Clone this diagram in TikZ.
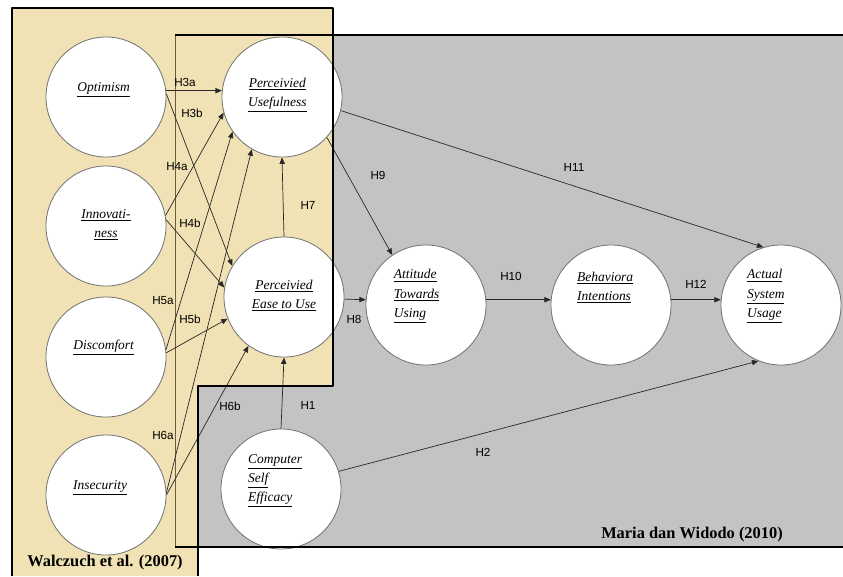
\documentclass[tikz,border=0pt]{standalone}
\usepackage{fontspec}
\setmainfont{Liberation Serif}
\setsansfont{Liberation Sans}
\usetikzlibrary{arrows.meta}

\definecolor{tanbg}{RGB}{240,226,180}
\definecolor{greybg}{RGB}{195,195,195}
\definecolor{rimgrey}{RGB}{115,115,115}
\definecolor{arrowgrey}{RGB}{40,40,40}
\definecolor{oliveline}{RGB}{105,95,55}

\tikzset{
  construct/.style={circle,draw=rimgrey,line width=0.7pt,fill=white,
    minimum size=3.6cm,inner sep=0pt},
  cname/.style={font=\fontsize{11.5}{16.5}\selectfont\itshape,align=left,inner sep=0pt},
  hyp/.style={draw=arrowgrey,line width=0.6pt,-{Triangle[length=5.5pt,width=4.5pt]}},
  hlab/.style={font=\sffamily\fontsize{10}{12}\selectfont,inner sep=0pt},
  boxline/.style={line width=2.4pt,black},
  study/.style={font=\bfseries\fontsize{14}{16}\selectfont,inner sep=0pt}
}

\begin{document}
\begin{tikzpicture}[x=0.03cm,y=-0.03cm,line join=round]
  \useasboundingbox (0,0) rectangle (843,576);

  % ---------- the two study areas ----------
  \fill[greybg] (175,35) rectangle (843,547);
  \fill[tanbg] (12,8) -- (333,8) -- (333,386) -- (198,386) -- (198,576) -- (12,576) -- cycle;
  \draw[oliveline,line width=0.8pt] (175,35) -- (175,547);

  % ---------- constructs ----------
  \node[construct,label={[cname,xshift=-2pt,yshift=6pt]center:\underline{Optimism}}]
    (opt) at (106,97) {};
  \node[construct,label={[cname,align=center,yshift=1pt]center:{\underline{Innovati-}\\\underline{ness}}}]
    (inn) at (106,226) {};
  \node[construct,label={[cname,xshift=-2pt,yshift=8pt]center:\underline{Discomfort}}]
    (disc) at (106,357) {};
  \node[construct,label={[cname,xshift=-5pt,yshift=6pt]center:\underline{Insecurity}}]
    (ins) at (106,495) {};
  \node[construct,label={[cname,align=center,xshift=-4pt,yshift=2pt]center:{\underline{Perceivied}\\\underline{Usefulness}}}]
    (pu) at (282,97) {};
  \node[construct,label={[cname,align=center,yshift=1pt]center:{\underline{Perceivied}\\\underline{Ease to Use}}}]
    (peu) at (284,297) {};
  \node[construct,label={[cname,xshift=-8pt,yshift=7.5pt]center:{\underline{Attitude}\\\underline{Towards}\\\underline{Using}}}]
    (att) at (426,305) {};
  \node[construct,label={[cname,xshift=-5pt,yshift=15pt]center:{\underline{Behaviora}\\\underline{Intentions}}}]
    (beh) at (611,305) {};
  \node[construct,label={[cname,xshift=-13pt,yshift=7.5pt]center:{\underline{Actual}\\\underline{System}\\\underline{Usage}}}]
    (act) at (781,305) {};
  \node[construct,label={[cname,xshift=-5pt,yshift=7pt]center:{\underline{Computer}\\\underline{Self}\\\underline{Efficacy}}}]
    (cse) at (281,489) {};

  % ---------- hypotheses ----------
  \draw[hyp] (opt.6) -- (pu.174);
  \draw[hyp] (opt.3) -- (peu.149);
  \draw[hyp] (inn.10) -- (pu.195);
  \draw[hyp] (inn.6) -- (peu.171);
  \draw[hyp] (disc.7) -- (pu.215);
  \draw[hyp] (disc.4) -- (peu.201);
  \draw[hyp] (ins.2) -- (pu.240);
  \draw[hyp] (ins.0) -- (peu.234);
  \draw[hyp] (peu.north) -- (pu.south);
  \draw[hyp] (cse.north) -- (peu.south);
  \draw[hyp] (peu.-2) -- (att.175);
  \draw[hyp] (pu.-42) -- (att.124);
  \draw[hyp] (pu.-13) -- (act.107);
  \draw[hyp] (att.5) -- (beh.175);
  \draw[hyp] (beh.5) -- (act.175);
  \draw[hyp] (cse.17) -- (act.248);

  \node[hlab] (l3a) at (185,82) {H3a};
  \node[hlab] (l3b) at (192,113) {H3b};
  \node[hlab] (l4a) at (177,167) {H4a};
  \node[hlab] (l4b) at (190,223) {H4b};
  \node[hlab] (l5a) at (163,301) {H5a};
  \node[hlab] (l5b) at (190,319) {H5b};
  \node[hlab] (l6a) at (163,435) {H6a};
  \node[hlab] (l6b) at (230,406) {H6b};
  \node[hlab] (l7) at (308,205) {H7};
  \node[hlab] (l8) at (354,319) {H8};
  \node[hlab] (l9) at (378,175) {H9};
  \node[hlab] (l10) at (511,276) {H10};
  \node[hlab] (l11) at (574,167) {H11};
  \node[hlab] (l12) at (696,284) {H12};
  \node[hlab] (l1) at (308,405) {H1};
  \node[hlab] (l2) at (483,452) {H2};

  % ---------- frames on top ----------
  \draw[boxline] (12,576) -- (12,8) -- (333,8) -- (333,386) -- (198,386) -- (198,576);
  \draw[boxline] (175,35) -- (843,35);
  \draw[boxline] (175,547) -- (843,547);

  \node[study] (walc) at (105,563) {Walczuch et al. (2007)};
  \node[study] (maria) at (692,535) {Maria dan Widodo (2010)};
\end{tikzpicture}
\end{document}
